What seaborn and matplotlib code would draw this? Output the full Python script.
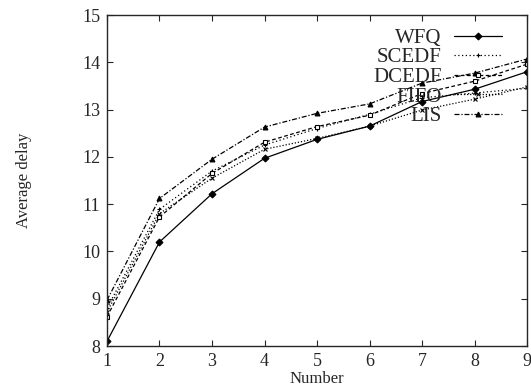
import pandas as pd
import matplotlib
matplotlib.use("Agg")
import matplotlib.pyplot as plt
import seaborn as sns

# Values
number = [1, 2, 3, 4, 5, 6, 7, 8, 9]
wfq = [8.1, 10.2, 11.22, 11.97, 12.37, 12.65, 13.17, 13.43, 13.8]
scedf = [8.8, 10.89, 11.7, 12.25, 12.6, 12.9, 13.25, 13.35, 13.45]
dcedf = [8.62, 10.73, 11.65, 12.31, 12.64, 12.88, 13.34, 13.6, 13.96]
fifo = [8.72, 10.8, 11.55, 12.16, 12.39, 12.65, 12.99, 13.22, 13.48]
lis = [8.97, 11.12, 11.95, 12.63, 12.92, 13.12, 13.56, 13.77, 14.07]

series = ["WFQ", "SCEDF", "DCEDF", "FIFO", "LIS"]
values = [wfq, scedf, dcedf, fifo, lis]

markers = {"WFQ": "D", "SCEDF": "+", "DCEDF": "s", "FIFO": "x", "LIS": "^"}
dashes = {"WFQ": "-", "SCEDF": (0, (1, 2)), "DCEDF": (0, (3, 2)),
          "FIFO": (0, (1, 1.5)), "LIS": (0, (4, 1.5, 1, 1.5))}

sns.set_style("ticks")
plt.rcParams["font.family"] = ["Liberation Serif", "DejaVu Serif"]

fig = plt.figure(figsize=(5.31, 3.92), dpi=100)
ax = fig.add_axes([0.2015, 0.1173, 0.791, 0.8444])

for name, vals in zip(series, values):
    sns.lineplot(
        x=number, y=vals, ax=ax, label=name, color="black",
        marker=markers[name], linestyle=dashes[name],
        markersize=3.5, linewidth=0.9, markeredgewidth=0.8,
        markerfacecolor="white" if name == "DCEDF" else "black",
        markeredgecolor="black",
    )

ax.set_xlim(1, 9)
ax.set_ylim(8, 15)
ax.set_xticks(number)
ax.set_yticks(range(8, 16))
ax.tick_params(direction="in", top=True, right=True, labelsize=13, length=4, pad=5)
ax.set_xlabel("Number", fontsize=12, labelpad=1)
ax.set_ylabel("Average delay", fontsize=12, labelpad=36)
for s in ax.spines.values():
    s.set_linewidth(1.0)
    s.set_visible(True)

ax.legend(
    title=None, frameon=False, markerfirst=False, loc="upper right",
    fontsize=15, handlelength=2.3, handletextpad=0.6, labelspacing=0.0,
    bbox_to_anchor=(0.96, 0.985), borderaxespad=0.0,
)

fig.savefig("out.png", dpi=100)
